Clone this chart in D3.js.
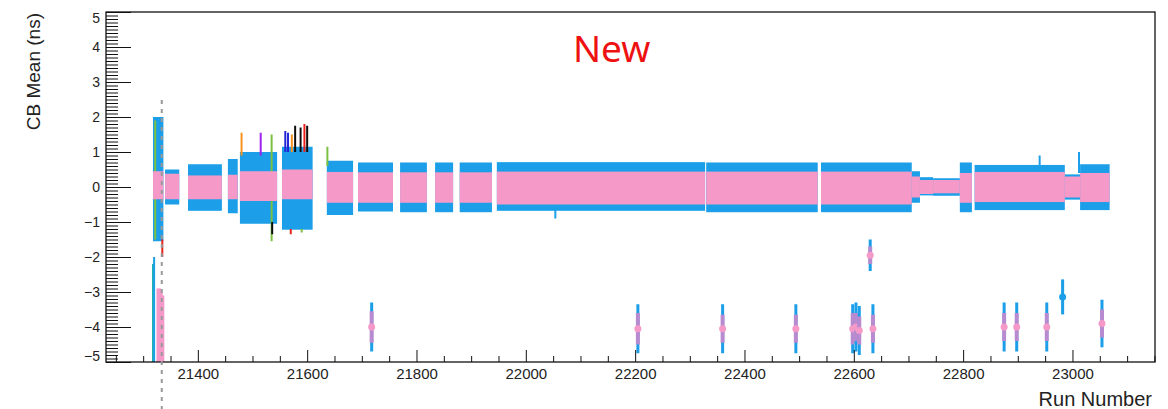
<!DOCTYPE html>
<html>
<head>
<meta charset="utf-8">
<script src="https://cdn.jsdelivr.net/npm/d3@7"></script>
<style>
    body { margin: 0; background: #fff; }
    text { font-family: "Liberation Sans", Arial, sans-serif; fill: #222; }
</style>
</head>
<body>
<script>
// band segments (run ranges)
const runStart = [21318, 21340, 21382, 21455, 21477, 21554, 21636, 21693, 21770, 21834, 21879, 21947, 22330, 22540, 22706, 22721, 22745, 22794, 22821, 22986, 23014];
const runEnd   = [21337, 21366, 21444, 21473, 21545, 21610, 21684, 21757, 21819, 21867, 21938, 22328, 22534, 22706, 22721, 22745, 22794, 22816, 22986, 23014, 23068];
const blueHigh = [2.0, 0.5, 0.65, 0.8, 1.0, 1.15, 0.75, 0.7, 0.7, 0.7, 0.7, 0.71, 0.7, 0.7, 0.45, 0.28, 0.25, 0.7, 0.63, 0.36, 0.65];
const blueLow  = [-1.55, -0.5, -0.68, -0.75, -1.05, -1.22, -0.8, -0.7, -0.72, -0.72, -0.72, -0.68, -0.72, -0.72, -0.45, -0.24, -0.25, -0.72, -0.66, -0.36, -0.66];
const pinkHigh = [0.45, 0.38, 0.33, 0.35, 0.45, 0.5, 0.43, 0.42, 0.42, 0.42, 0.42, 0.44, 0.44, 0.44, 0.3, 0.2, 0.2, 0.4, 0.43, 0.3, 0.4];
const pinkLow  = [-0.35, -0.35, -0.35, -0.35, -0.4, -0.35, -0.45, -0.45, -0.45, -0.45, -0.45, -0.5, -0.5, -0.5, -0.3, -0.2, -0.18, -0.45, -0.43, -0.3, -0.43];

// single channels sticking out of the bands
const spikeRun   = [21318, 21320, 21322, 21327, 21330, 21333, 21336, 21335, 21480, 21515, 21535, 21536, 21560, 21565, 21572, 21578, 21588, 21595, 21600, 21570, 21590, 21637, 22054, 22940, 23012];
const spikeTop   = [-2.2, -2.0, 1.9, -2.9, -2.9, -3.0, -3.1, -1.5, 1.55, 1.55, 1.5, -1.0, 1.6, 1.55, 1.5, 1.75, 1.7, 1.8, 1.75, -1.2, -1.2, 1.15, -0.6, 0.9, 1.0];
const spikeBot   = [-5.0, -5.0, -1.5, -5.0, -5.0, -5.0, -5.0, -2.0, 0.9, 0.9, -1.55, -1.35, 1.0, 1.0, 1.0, 1.0, 1.0, 1.0, 1.0, -1.35, -1.3, 0.6, -0.9, 0.5, 0.4];
const spikeColor = ["#20b2aa", "#1a9fe8", "#7ac143", "#f59ac8", "#f59ac8", "#f59ac8", "#f59ac8", "#e8231c", "#f7931e", "#a020f0", "#7ac143", "#111111", "#2424d8", "#2424d8", "#f7931e", "#111111", "#111111", "#e8231c", "#111111", "#e8231c", "#7ac143", "#7ac143", "#1a9fe8", "#1a9fe8", "#1a9fe8"];

// isolated runs far below zero
const outRun      = [21718, 22205, 22360, 22494, 22598, 22604, 22610, 22630, 22635, 22875, 22898, 22953, 22982, 23054];
const outMean     = [-4.0, -4.05, -4.05, -4.05, -4.05, -4.0, -4.1, -1.95, -4.05, -4.0, -4.0, -4.0, -3.14, -3.9];
const outBlueErr  = [0.7, 0.7, 0.7, 0.7, 0.7, 0.7, 0.7, 0.45, 0.7, 0.7, 0.7, 0.7, 0.5, 0.68];
const outPinkErr  = [0.45, 0.45, 0.4, 0.4, 0.45, 0.4, 0.4, 0.25, 0.4, 0.4, 0.4, 0.4, 0, 0.4];

const xMajor = [21400, 21600, 21800, 22000, 22200, 22400, 22600, 22800, 23000];
const yMajor = [-5, -4, -3, -2, -1, 0, 1, 2, 3, 4, 5];
const cutRun = 21334;

const blue = "#1a9fe8", pink = "#f59ac8";

let margin = { top: 12, right: 13, bottom: 47, left: 106 }
    , width = 1168 - margin.left - margin.right
    , height = 409 - margin.top - margin.bottom;

let xScale = d3.scaleLinear().domain([21232, 23151]).range([0, width]);
let yScale = d3.scaleLinear().domain([-5, 5]).range([height, 0]);

let svg = d3.select("body").append("svg")
    .attr("width", 1168)
    .attr("height", 409);

// soften the marks a bit, the reference is a scaled screenshot
svg.append("defs").append("filter").attr("id", "soft")
    .append("feGaussianBlur").attr("stdDeviation", 0.6);

let g = svg.append("g")
    .attr("transform", "translate(" + margin.left + "," + margin.top + ")");
let marks = g.append("g").attr("filter", "url(#soft)");

let segs = d3.range(runStart.length);

// blue error band
marks.append("g").selectAll("rect").data(segs).join("rect")
    .attr("x", i => xScale(runStart[i]))
    .attr("width", i => xScale(runEnd[i]) - xScale(runStart[i]))
    .attr("y", i => yScale(blueHigh[i]))
    .attr("height", i => yScale(blueLow[i]) - yScale(blueHigh[i]))
    .attr("fill", blue);

// spikes
marks.append("g").selectAll("line").data(d3.range(spikeRun.length)).join("line")
    .attr("x1", i => xScale(spikeRun[i]))
    .attr("x2", i => xScale(spikeRun[i]))
    .attr("y1", i => yScale(spikeTop[i]))
    .attr("y2", i => yScale(spikeBot[i]))
    .attr("stroke", i => spikeColor[i])
    .attr("stroke-width", i => spikeColor[i] === pink ? 3 : 2);

// pink markers band
marks.append("g").selectAll("rect").data(segs).join("rect")
    .attr("x", i => xScale(runStart[i]))
    .attr("width", i => xScale(runEnd[i]) - xScale(runStart[i]))
    .attr("y", i => yScale(pinkHigh[i]))
    .attr("height", i => yScale(pinkLow[i]) - yScale(pinkHigh[i]))
    .attr("fill", pink);

// outliers
let outs = marks.append("g").selectAll("g").data(d3.range(outRun.length)).join("g");
outs.append("line")
    .attr("x1", i => xScale(outRun[i])).attr("x2", i => xScale(outRun[i]))
    .attr("y1", i => yScale(outMean[i] + outBlueErr[i]))
    .attr("y2", i => yScale(outMean[i] - outBlueErr[i]))
    .attr("stroke", blue).attr("stroke-width", 3);
outs.append("line")
    .attr("x1", i => xScale(outRun[i])).attr("x2", i => xScale(outRun[i]))
    .attr("y1", i => yScale(outMean[i] + outPinkErr[i]))
    .attr("y2", i => yScale(outMean[i] - outPinkErr[i]))
    .attr("stroke", "#b88ad0").attr("stroke-width", 4);
outs.append("circle")
    .attr("cx", i => xScale(outRun[i]))
    .attr("cy", i => yScale(outMean[i]))
    .attr("r", 3.5)
    .attr("fill", i => outPinkErr[i] > 0 ? pink : blue);

// axes, ticks pointing inward like ROOT
let xMinor = d3.range(21250, 23151, 50).filter(v => v % 200 !== 0);
g.append("g")
    .attr("transform", "translate(0," + height + ")")
    .call(d3.axisBottom(xScale).tickValues(xMinor).tickSize(-6).tickFormat(""))
    .call(a => a.select(".domain").remove());
g.append("g")
    .attr("class", "x axis")
    .attr("transform", "translate(0," + height + ")")
    .call(d3.axisBottom(xScale).tickValues(xMajor).tickSize(-12).tickPadding(6).tickFormat(d3.format("d")))
    .call(a => a.select(".domain").remove())
    .selectAll("text").style("font-size", "15px").attr("fill", "#222");

let yMinor = d3.range(-50, 51).map(v => v / 10).filter(v => !Number.isInteger(v));
g.append("g")
    .call(d3.axisLeft(yScale).tickValues(yMinor).tickSize(-12).tickFormat(""))
    .call(a => a.select(".domain").remove());
let yAx = g.append("g")
    .attr("class", "y axis")
    .call(d3.axisLeft(yScale).tickValues(yMajor).tickSize(-25).tickPadding(6))
    .call(a => a.select(".domain").remove());
yAx.selectAll("text").style("font-size", "14px").attr("fill", "#222")
    .attr("dy", d => d === 5 ? "0.75em" : d === -5 ? "-0.1em" : "0.32em");

svg.selectAll(".tick line").attr("stroke", "#111");

// frame
g.append("rect")
    .attr("width", width).attr("height", height)
    .attr("fill", "none").attr("stroke", "#111").attr("stroke-width", 1.3);

// dashed cut line
svg.append("line")
    .attr("x1", margin.left + xScale(cutRun)).attr("x2", margin.left + xScale(cutRun))
    .attr("y1", 100).attr("y2", 409)
    .attr("stroke", "#999").attr("stroke-width", 2).attr("stroke-dasharray", "4,5");

// titles
svg.append("text")
    .attr("transform", "translate(40,13) rotate(-90)")
    .attr("text-anchor", "end")
    .style("font-size", "19px")
    .text("CB Mean (ns)");
svg.append("text")
    .attr("x", 1152).attr("y", 406)
    .attr("text-anchor", "end")
    .style("font-size", "20px")
    .text("Run Number");
svg.append("text")
    .attr("x", 573).attr("y", 62)
    .style("font-family", "'Noto Sans', 'Open Sans', sans-serif")
    .style("font-size", "37px")
    .style("fill", "#ee1111")
    .text("New");
</script>
</body>
</html>
